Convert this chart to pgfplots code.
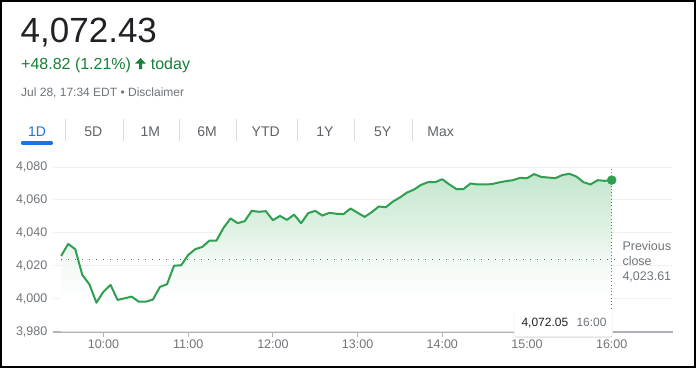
\documentclass[border=0pt]{standalone}
\usepackage{pgfplots}
\pgfplotsset{compat=1.18}
\usepackage{pgfplotstable}
\usepackage{fontspec}
\setmainfont{Liberation Sans}
\usetikzlibrary{shadows}
\definecolor{linegreen}{RGB}{46,160,80}
\definecolor{fillgreen}{RGB}{196,230,205}
\definecolor{titlecol}{RGB}{32,33,36}
\definecolor{upgreen}{RGB}{24,128,56}
\definecolor{greytext}{RGB}{112,117,122}
\definecolor{tabgrey}{RGB}{95,99,104}
\definecolor{tabblue}{RGB}{26,115,232}
\definecolor{sepgrey}{RGB}{218,220,224}
\definecolor{gridgrey}{RGB}{238,240,241}
\definecolor{axisgrey}{RGB}{176,179,184}
\definecolor{dotgrey}{RGB}{95,99,104}
\colorlet{fg50}{fillgreen!50!white}
\colorlet{fg18}{fillgreen!18!white}
\pgfdeclareverticalshading{fadegreen}{100bp}{color(0bp)=(white); color(25bp)=(white); color(35bp)=(white); color(45.8bp)=(fg18); color(56.2bp)=(fg50); color(75bp)=(fillgreen); color(100bp)=(fillgreen)}

\pgfplotstableread{
x y
9.5 4026.0
9.5833 4033.3
9.6667 4030.1
9.75 4014.5
9.8333 4008.8
9.9167 3997.6
10 4004.3
10.0833 4008.4
10.1667 3999.3
10.25 4000.3
10.3333 4001.3
10.4167 3998.2
10.5 3998.2
10.5833 3999.5
10.6667 4007.2
10.75 4008.8
10.8333 4020.1
10.9167 4020.3
11 4026.6
11.0833 4030.1
11.1667 4031.5
11.25 4035.3
11.3333 4035.3
11.4167 4043.0
11.5 4048.8
11.5833 4045.9
11.6667 4047.1
11.75 4053.4
11.8333 4052.8
11.9167 4053.2
12 4047.7
12.0833 4050.3
12.1667 4047.9
12.25 4051.1
12.3333 4045.9
12.4167 4052.0
12.5 4053.4
12.5833 4050.5
12.6667 4052.2
12.75 4051.6
12.8333 4051.4
12.9167 4054.8
13 4052.2
13.0833 4049.7
13.1667 4052.6
13.25 4056.0
13.3333 4055.6
13.4167 4059.0
13.5 4061.5
13.5833 4064.5
13.6667 4066.3
13.75 4069.2
13.8333 4070.8
13.9167 4070.8
14 4072.6
14.0833 4069.4
14.1667 4066.6
14.25 4066.6
14.3333 4070.0
14.4167 4069.4
14.5 4069.4
14.5833 4069.6
14.6667 4070.6
14.75 4071.4
14.8333 4072.0
14.9167 4073.4
15 4073.2
15.0833 4075.7
15.1667 4074.0
15.25 4073.6
15.3333 4073.2
15.4167 4075.1
15.5 4075.9
15.5833 4074.2
15.6667 4070.8
15.75 4069.4
15.8333 4072.0
15.9167 4071.6
16 4072.05
}\pricedata

\begin{document}
\begin{tikzpicture}[x=1pt,y=1pt]
\useasboundingbox (0,0) rectangle (696,368);
\fill[white] (0,0) rectangle (696,368);

% header
\node[anchor=base west, inner sep=0pt, text=titlecol, font=\fontsize{35}{40}\selectfont] at (20.5,325.3) {4,072.43};
\node[anchor=base west, inner sep=0pt, text=upgreen, font=\fontsize{16}{19}\selectfont] at (21,298.7) {+48.82 (1.21\%)};
\fill[upgreen] (140.5,309.8) -- (146,304.3) -- (142,304.3) -- (142,298.9) -- (139,298.9) -- (139,304.3) -- (135,304.3) -- cycle;
\node[anchor=base west, inner sep=0pt, text=upgreen, font=\fontsize{16}{19}\selectfont] at (150.7,298.7) {today};
\node[anchor=base west, inner sep=0pt, text=greytext, font=\fontsize{12}{14}\selectfont] at (21,272) {Jul 28, 17:34 EDT • Disclaimer};

% tabs
\node[anchor=base, inner sep=0pt, text=tabblue, font=\fontsize{14}{16}\selectfont] at (37,232) {1D};
\foreach \lab/\xx in {5D/93.3, 1M/150.3, 6M/207, YTD/265.7, 1Y/325, 5Y/382.7, Max/440.7}
  \node[anchor=base, inner sep=0pt, text=tabgrey, font=\fontsize{14}{16}\selectfont] at (\xx,232) {\lab};
\foreach \xx in {65.7,123,179.7,236.7,297.3,354.3,412}
  \draw[sepgrey, line width=1pt] (\xx,227) -- (\xx,249);
\draw[tabblue, line width=3.2pt, line cap=round] (22.5,225) -- (51.5,225);

\begin{axis}[at={(53pt,36.3pt)}, anchor=south west, scale only axis,
  width=619.7pt, height=164.7pt,
  xmin=9.404, xmax=16.72, ymin=3980, ymax=4080,
  axis x line*=bottom, axis y line*=left,
  x axis line style={axisgrey, line width=1.6pt, -},
  y axis line style={draw=none},
  xtick={10,11,12,13,14,15,16},
  xticklabels={10:00,11:00,12:00,13:00,14:00,15:00,16:00},
  ytick={3980,4000,4020,4040,4060,4080},
  yticklabels={{3,980},{4,000},{4,020},{4,040},{4,060},{4,080}},
  ymajorgrids, grid style={gridgrey, line width=1pt},
  tick align=outside, major tick length=5pt,
  xtick style={axisgrey, line width=1pt},
  ytick style={draw=none},
  ticklabel style={font=\fontsize{12.5}{14}\selectfont, text=greytext},
  yticklabel style={inner sep=0pt, anchor=east, xshift=-0.5pt},
  xticklabel style={inner sep=0pt, anchor=north, yshift=-3pt},
  /pgf/number format/assume math mode=true,
]
\addplot[draw=none, shading=fadegreen] table {\pricedata} -- (axis cs:16,3980) -- (axis cs:9.5,3980) -- cycle;
\addplot[dotgrey, line width=1.1pt, dash pattern=on 1.1pt off 5.9pt] coordinates {(9.5,4023.61) (16.04,4023.61)};
\addplot[greytext, line width=0.9pt, dash pattern=on 1pt off 2.3pt] coordinates {(16,3980) (16,4080)};
\addplot[linegreen, line width=2pt, line join=round] table {\pricedata};
\addplot[only marks, mark=*, mark size=4.5pt, mark options={fill=linegreen, draw=linegreen}] coordinates {(16,4072.05)};
\end{axis}

% previous close
\node[anchor=base west, inner sep=0pt, text=greytext, font=\fontsize{12.5}{14}\selectfont] at (622.3,117.3) {Previous};
\node[anchor=base west, inner sep=0pt, text=greytext, font=\fontsize{12.5}{14}\selectfont] at (622.3,102.7) {close};
\node[anchor=base west, inner sep=0pt, text=greytext, font=\fontsize{12.5}{14}\selectfont] at (622.3,87.3) {4,023.61};

% tooltip
\path[fill=white, rounded corners=2pt, drop shadow={shadow xshift=0pt, shadow yshift=-0.8pt, opacity=0.35, fill=black!45}] (514.3,31.3) rectangle (612.7,58.7);
\node[anchor=base west, inner sep=0pt, text=titlecol, font=\fontsize{12}{14}\selectfont] at (521.3,42) {4,072.05};
\node[anchor=base west, inner sep=0pt, text=greytext, font=\fontsize{12}{14}\selectfont] at (576.3,42) {16:00};

\draw[black, line width=2pt] (1,1) rectangle (694.5,367);
\end{tikzpicture}
\end{document}
